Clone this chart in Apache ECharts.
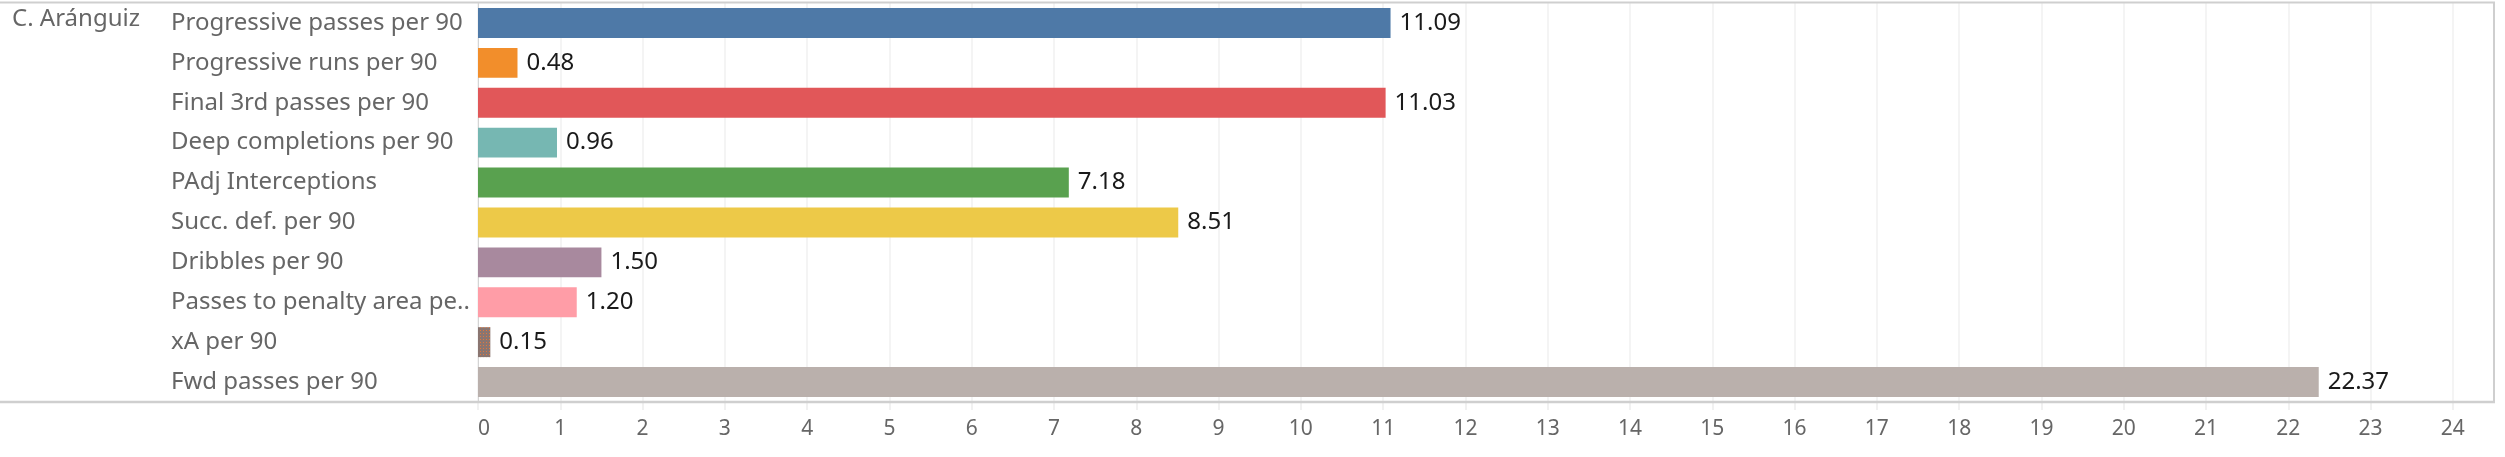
<!DOCTYPE html>
<html>
<head>
<meta charset="utf-8">
<script src="https://cdn.jsdelivr.net/npm/echarts@6/dist/echarts.min.js"></script>
<style>
  html, body { margin: 0; padding: 0; background: #fff; }
  #chart { width: 2505px; height: 457px; }
</style>
</head>
<body>
<div id="chart"></div>
<script>
// player + metrics
const playerName = "C. Aránguiz";
const categories = [
  "Progressive passes per 90",
  "Progressive runs per 90",
  "Final 3rd passes per 90",
  "Deep completions per 90",
  "PAdj Interceptions",
  "Succ. def. per 90",
  "Dribbles per 90",
  "Passes to penalty area per 90",
  "xA per 90",
  "Fwd passes per 90",
];
const values = [11.09, 0.48, 11.03, 0.96, 7.18, 8.51, 1.5, 1.2, 0.15, 22.37];
// tableau 10 palette
const barColors = [
  "#4e79a7", "#f28e2b", "#e15759", "#76b7b2", "#59a14f",
  "#edc948", "#a8899e", "#ff9da7", "#8a7570", "#bab0ac",
];

const font = "Noto Sans";
const myChart = echarts.init(document.getElementById("chart"));

let option = {
  animation: false,
  textStyle: { fontFamily: font },
  grid: { left: 478, top: 3, right: 11, height: 399 },
  xAxis: {
    type: "value",
    min: 0,
    max: 24.5,
    interval: 1,
    axisLine: { show: false },
    axisTick: { show: true, length: 8, lineStyle: { color: "#ededed", width: 1.5 } },
    splitLine: { show: true, lineStyle: { color: "#f0f0f0", width: 1.5 } },
    axisLabel: {
      fontSize: 21,
      color: "#666",
      margin: 17,
      showMaxLabel: false,
      alignMinLabel: "left",
      formatter: (v) => (Number.isInteger(v) ? String(v) : ""),
    },
  },
  yAxis: {
    type: "category",
    inverse: true,
    data: categories,
    axisLine: { show: true, lineStyle: { color: "#d4d4d4", width: 1 } },
    axisTick: { show: false },
    splitLine: { show: false },
    axisLabel: {
      align: "left",
      margin: 307,
      fontSize: 24,
      color: "#666",
      width: 300,
      overflow: "truncate",
      ellipsis: "..",
    },
  },
  graphic: [
    // header lines across the whole view
    { type: "line", shape: { x1: 0, y1: 2.5, x2: 2495, y2: 2.5 }, style: { stroke: "#cfcfcf", lineWidth: 2 }, z: 10 },
    { type: "line", shape: { x1: 0, y1: 402, x2: 2495, y2: 402 }, style: { stroke: "#cfcfcf", lineWidth: 2.5 }, z: 10 },
    { type: "line", shape: { x1: 2494, y1: 2, x2: 2494, y2: 403 }, style: { stroke: "#cfcfcf", lineWidth: 2 }, z: 10 },
    {
      type: "text",
      left: 12,
      top: 7,
      style: { text: playerName, font: "24px " + font, fill: "#666" },
    },
  ],
  series: [
    {
      type: "bar",
      barCategoryGap: "25%",
      data: values.map((v, i) => {
        let item = { value: v, itemStyle: { color: barColors[i] } };
        // xA bar is dotted in the original
        if (i === 8) {
          item.itemStyle.decal = {
            symbol: "rect",
            symbolSize: 1,
            color: "rgba(240,120,50,0.85)",
            dashArrayX: [1, 2],
            dashArrayY: [1, 2],
          };
        }
        return item;
      }),
      label: {
        show: true,
        position: "right",
        distance: 9,
        fontSize: 24,
        color: "#1a1a1a",
        formatter: (p) => p.value.toFixed(2),
      },
    },
  ],
};
myChart.setOption(option);
window.addEventListener("resize", () => myChart.resize());
</script>
</body>
</html>
